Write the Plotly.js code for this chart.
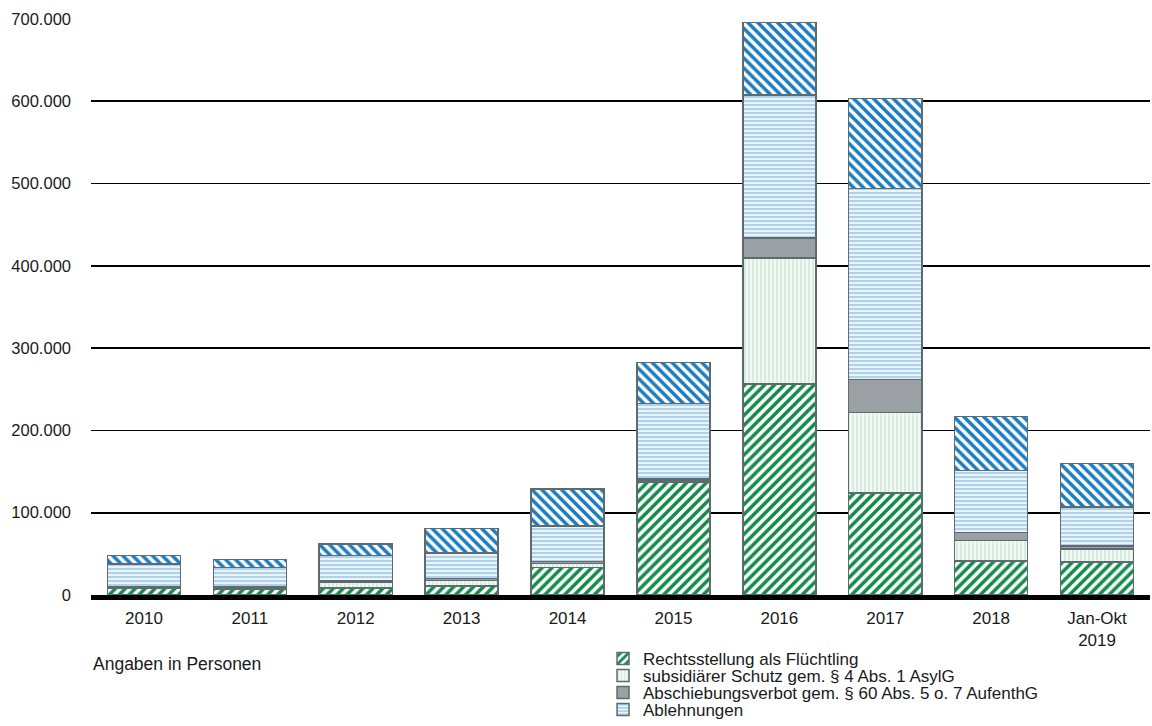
<!DOCTYPE html>
<html>
<head>
<meta charset="utf-8">
<script src="https://cdn.plot.ly/plotly-3.0.1.min.js"></script>
<style>
html,body{margin:0;padding:0;background:#fff;}
#chart{width:1152px;height:726px;}
</style>
</head>
<body>
<div id="chart"></div>
<script>
// Categories (x-axis)
const categories = ['2010','2011','2012','2013','2014','2015','2016','2017','2018','Jan-Okt<br>2019'];

// Series values (persons)
const fluechtling   = [7704, 7098, 8764, 10915, 33310, 137136, 256136, 123909, 41368, 40000];
const subsidiaer    = [548, 666, 6974, 7005, 5174, 1707, 153700, 98074, 25055, 16000];
const abschiebung   = [2143, 1911, 1402, 2208, 2079, 2072, 24084, 39659, 9548, 3500];
const ablehnungen   = [27255, 23717, 30700, 31145, 43018, 91514, 173846, 232307, 75395, 47500];
const formelle      = [10537, 9970, 13986, 29705, 45330, 50297, 87967, 109479, 65507, 53000];

// Y-axis ticks
const yTicks = [0, 100000, 200000, 300000, 400000, 500000, 600000, 700000];

const seriesNames = [
  'Rechtsstellung als Flüchtling',
  'subsidiärer Schutz gem. § 4 Abs. 1 AsylG',
  'Abschiebungsverbot gem. § 60 Abs. 5 o. 7 AufenthG',
  'Ablehnungen',
  'formelle Entscheidungen'
];

const outline = {color: '#5f6a6e', width: 1.5};

const traces = [
  {
    type: 'bar', x: categories, y: fluechtling, name: seriesNames[0], legend: 'legend',
    marker: {color: '#ffffff', line: outline,
      pattern: {shape: '/', fgcolor: '#128a4a', bgcolor: '#ffffff', size: 7, solidity: 0.5}}
  },
  {
    type: 'bar', x: categories, y: subsidiaer, name: seriesNames[1], legend: 'legend2',
    marker: {color: '#f1f9f4', line: outline,
      pattern: {shape: '|', fgcolor: '#c9e7d5', bgcolor: '#f3faf6', size: 4, solidity: 0.35}}
  },
  {
    type: 'bar', x: categories, y: abschiebung, name: seriesNames[2], legend: 'legend3',
    marker: {color: '#9aa0a3', line: outline}
  },
  {
    type: 'bar', x: categories, y: ablehnungen, name: seriesNames[3], legend: 'legend4',
    marker: {color: '#e8f3fb', line: outline,
      pattern: {shape: '-', fgcolor: '#a7cfeb', bgcolor: '#eaf4fb', size: 4, solidity: 0.45}}
  },
  {
    type: 'bar', x: categories, y: formelle, name: seriesNames[4], showlegend: false,
    marker: {color: '#ffffff', line: outline,
      pattern: {shape: '\\', fgcolor: '#1b7cc0', bgcolor: '#ffffff', size: 7, solidity: 0.5}}
  }
];

const txt = '#1a1a1a';
const fontFam = 'Liberation Sans, Arial, sans-serif';
const legendBase = {
  xref: 'paper', yref: 'paper', x: 0.4835, xanchor: 'left', yanchor: 'middle',
  bgcolor: 'rgba(0,0,0,0)', borderwidth: 0, itemwidth: 30,
  font: {family: fontFam, size: 17, color: txt}, itemclick: false
};

const layout = {
  width: 1152, height: 726,
  margin: {l: 91, r: 2, t: 19, b: 131, autoexpand: false},
  paper_bgcolor: '#ffffff', plot_bgcolor: '#ffffff',
  separators: ',.',
  barmode: 'stack',
  bargap: 0.31,
  font: {family: fontFam, size: 16, color: txt},
  showlegend: true,
  xaxis: {
    type: 'category', automargin: false,
    showgrid: false, zeroline: false,
    showline: true, linecolor: '#000000', linewidth: 4.5,
    ticks: '', tickfont: {family: fontFam, size: 17, color: txt},
    ticklabelstandoff: 4
  },
  yaxis: {
    range: [0, 700000], tickvals: yTicks, tickformat: ',d', automargin: false,
    showgrid: true, gridcolor: '#000000', gridwidth: 1.6,
    zeroline: false, showline: false, ticks: '',
    ticklabelstandoff: 19,
    tickfont: {family: fontFam, size: 16.5, color: txt}
  },
  legend:  Object.assign({}, legendBase, {y: -0.1110}),
  legend2: Object.assign({}, legendBase, {y: -0.1405}),
  legend3: Object.assign({}, legendBase, {y: -0.1700}),
  legend4: Object.assign({}, legendBase, {y: -0.1995}),
  annotations: [{
    xref: 'paper', yref: 'paper', x: 0, y: -0.1195, xanchor: 'left', yanchor: 'middle',
    text: 'Angaben in Personen', showarrow: false,
    font: {family: fontFam, size: 17.5, color: txt}
  }]
};

Plotly.newPlot('chart', traces, layout, {displayModeBar: false, staticPlot: true});
</script>
</body>
</html>
